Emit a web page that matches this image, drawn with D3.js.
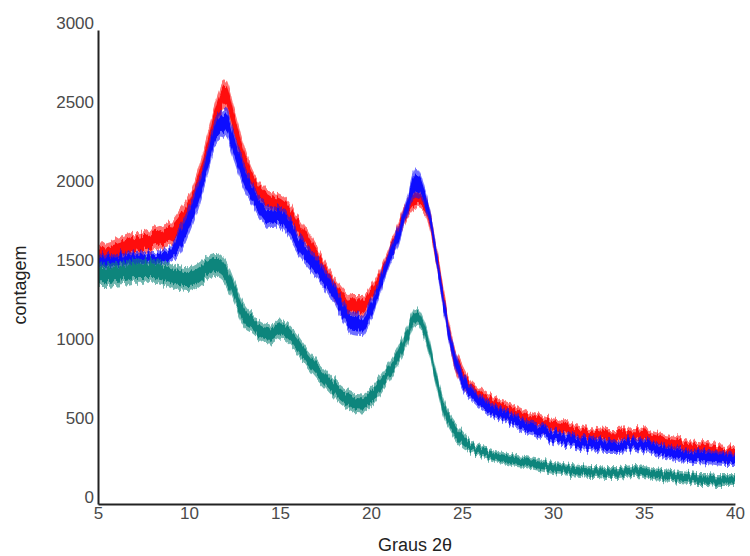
<!DOCTYPE html>
<html>
<head>
<meta charset="utf-8">
<script src="https://cdn.jsdelivr.net/npm/d3@7"></script>
<style>
  html, body { margin: 0; padding: 0; background: #fff; }
  svg { display: block; }
</style>
</head>
<body>
<svg id="chart" width="750" height="556"></svg>
<script>
// 2θ sampling (degrees)
const angles = [5,5.5,6,6.5,7,7.5,8,8.5,9,9.5,10,10.5,11,11.5,12,12.5,13,13.5,14,14.5,15,15.5,16,16.5,17,17.5,18,18.5,19,19.5,20,20.5,21,21.5,22,22.5,23,23.5,24,24.5,25,25.5,26,26.5,27,27.5,28,28.5,29,29.5,30,30.5,31,31.5,32,32.5,33,33.5,34,34.5,35,35.5,36,36.5,37,37.5,38,38.5,39,39.5,40];

// mean counts of each diffractogram
const redCounts = [1570,1582,1601,1620,1639,1652,1671,1690,1715,1766,1861,2019,2240,2462,2589,2399,2177,2038,1956,1911,1892,1842,1747,1658,1557,1462,1367,1291,1247,1247,1323,1430,1576,1722,1873,1937,1892,1639,1291,975,816,734,684,646,620,595,570,544,525,506,487,475,462,449,437,430,424,424,430,437,430,411,392,380,367,354,348,342,329,323,316];
const blueCounts = [1525,1532,1538,1544,1544,1551,1551,1557,1582,1671,1797,1956,2158,2367,2418,2253,2082,1956,1861,1810,1816,1747,1646,1570,1500,1418,1323,1215,1139,1133,1228,1386,1557,1696,1892,2038,1924,1639,1259,962,785,703,646,608,576,551,525,494,475,456,424,411,399,386,380,373,367,367,373,380,373,354,335,323,310,304,297,297,291,285,285];
const tealCounts = [1449,1449,1456,1462,1475,1475,1475,1468,1449,1430,1424,1449,1494,1513,1468,1335,1196,1139,1089,1076,1108,1076,1006,924,854,791,728,677,645,633,677,747,835,937,1070,1190,1082,835,608,487,418,367,335,316,297,285,272,266,253,241,228,222,215,209,203,203,196,196,203,209,203,190,184,177,171,165,158,158,152,152,152];

// half-width of the counting noise around each mean
const redNoise = [75,75,75,75,75,75,75,75,75,100,100,100,100,100,100,100,100,70,70,70,70,70,70,70,70,70,70,70,70,70,60,60,60,60,60,60,60,70,70,70,70,50,50,50,50,50,50,50,50,50,50,50,50,50,50,50,50,50,50,50,50,50,50,50,50,50,50,50,50,50,50];
const blueNoise = [50,50,50,50,50,50,50,50,50,90,90,90,90,90,90,90,90,70,70,70,70,70,70,70,70,70,70,70,70,70,70,60,60,60,60,95,60,60,60,60,60,45,45,45,45,45,45,45,45,45,45,45,45,45,45,45,45,45,45,45,45,45,45,45,45,45,45,45,45,45,45];
const tealNoise = [75,75,75,75,75,75,75,75,75,75,75,75,75,75,75,75,75,60,60,60,60,60,60,60,60,60,60,60,60,60,60,60,60,60,60,55,55,55,55,55,55,38,38,38,38,38,38,38,38,38,38,38,38,38,38,38,38,38,38,38,38,38,38,38,38,38,38,38,38,38,38];

const xTicks = [5,10,15,20,25,30,35,40];
const yTicks = [0,500,1000,1500,2000,2500,3000];

const series = [
  { name: "red",  counts: redCounts,  noise: redNoise,  color: "#ff1010", seed: 3 },
  { name: "blue", counts: blueCounts, noise: blueNoise, color: "#1010ff", seed: 7 },
  { name: "teal", counts: tealCounts, noise: tealNoise, color: "#0e857b", seed: 11 }
];

const svg = d3.select("#chart");
const m = { left: 98, right: 15, top: 30, bottom: 52 };
const W = 750, H = 556;

const x = d3.scaleLinear().domain([5, 40]).range([m.left, W - m.right]);
const y = d3.scaleLinear().domain([0, 3000]).range([H - m.bottom, m.top]);

// jagged-edge filter: vertical-only displacement that gives the traces a
// detector-noise texture
const defs = svg.append("defs");
series.forEach(s => {
  const f = defs.append("filter").attr("id", "grain-" + s.name)
    .attr("x", "-2%").attr("y", "-10%").attr("width", "104%").attr("height", "120%");
  f.append("feTurbulence").attr("type", "fractalNoise")
    .attr("baseFrequency", "0.4 0.015").attr("numOctaves", 2)
    .attr("seed", s.seed).attr("result", "turb");
  const ct = f.append("feComponentTransfer").attr("in", "turb").attr("result", "map");
  ct.append("feFuncR").attr("type", "linear").attr("slope", 0).attr("intercept", 0.5);
  f.append("feDisplacementMap").attr("in", "SourceGraphic").attr("in2", "map")
    .attr("scale", 12).attr("xChannelSelector", "R").attr("yChannelSelector", "G");
});

// noisy traces drawn as density bands: a faint outer band and a solid core
const g = svg.append("g");
series.forEach(s => {
  const pts = angles.map((a, i) => ({ a, c: s.counts[i], n: s.noise[i] }));
  const outer = d3.area().curve(d3.curveMonotoneX)
    .x(d => x(d.a)).y0(d => y(d.c - d.n)).y1(d => y(d.c + d.n));
  const inner = d3.area().curve(d3.curveMonotoneX)
    .x(d => x(d.a)).y0(d => y(d.c - d.n * 0.6)).y1(d => y(d.c + d.n * 0.6));
  const sg = g.append("g").attr("filter", `url(#grain-${s.name})`);
  sg.append("path").datum(pts).attr("d", outer)
    .attr("fill", s.color).attr("fill-opacity", 0.6);
  sg.append("path").datum(pts).attr("d", inner)
    .attr("fill", s.color);
});

// axes
const xAxis = svg.append("g")
  .attr("transform", `translate(0,${y(0)})`)
  .call(d3.axisBottom(x).tickValues(xTicks).tickFormat(d3.format("d")).tickSize(0).tickPadding(3));
const yAxis = svg.append("g")
  .attr("transform", `translate(${x(5)},0)`)
  .call(d3.axisLeft(y).tickValues(yTicks).tickFormat(d3.format("d")).tickSize(0).tickPadding(4));

[xAxis, yAxis].forEach(ax => {
  ax.select(".domain").attr("stroke", "#222").attr("stroke-width", 2);
  ax.selectAll("text")
    .attr("font-family", "Liberation Sans, Arial, sans-serif")
    .attr("font-size", 17).attr("fill", "#4a4a4a");
});
yAxis.selectAll("text").attr("dy", "-0.1em");

svg.append("text")
  .attr("x", 415).attr("y", 551)
  .attr("text-anchor", "middle")
  .attr("font-family", "Liberation Sans, Arial, sans-serif")
  .attr("font-size", 18).attr("fill", "#222")
  .text("Graus 2θ");

svg.append("text")
  .attr("transform", "translate(26,285) rotate(-90)")
  .attr("text-anchor", "middle")
  .attr("font-family", "Liberation Sans, Arial, sans-serif")
  .attr("font-size", 18).attr("fill", "#222")
  .text("contagem");
</script>
</body>
</html>
